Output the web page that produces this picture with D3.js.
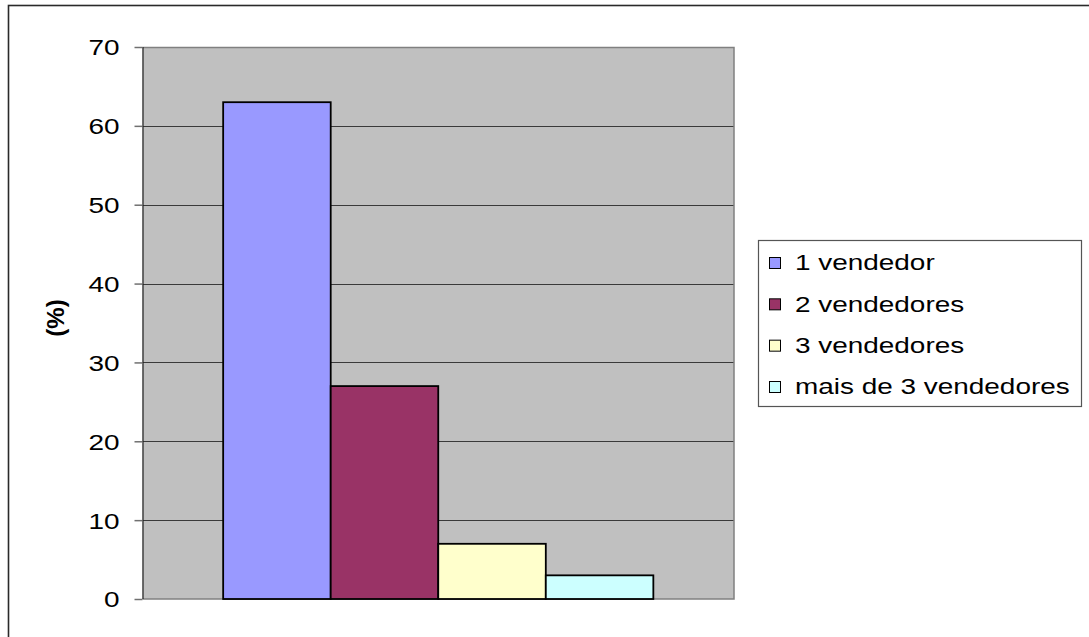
<!DOCTYPE html>
<html>
<head>
<meta charset="utf-8">
<script src="https://cdn.jsdelivr.net/npm/d3@7"></script>
<style>
  html, body { margin: 0; padding: 0; background: #fff; }
  svg { display: block; }
</style>
</head>
<body>
<svg id="chart" width="1089" height="637"></svg>
<script>
const categories = [""];
const series = ["1 vendedor", "2 vendedores", "3 vendedores", "mais de 3 vendedores"];
const values = [63, 27, 7, 3];
const colors = ["#9999FF", "#993366", "#FFFFCC", "#CCFFFF"];
const yTicks = [0, 10, 20, 30, 40, 50, 60, 70];
const yLabel = "(%)";

document.addEventListener("DOMContentLoaded", function() {
    const svg = d3.select("#chart");
    const margin = { top: 47, right: 355, bottom: 38, left: 142.5 };
    const width = +svg.attr("width") - margin.left - margin.right;
    const height = +svg.attr("height") - margin.top - margin.bottom;
    const stretch = 1.27;

    // outer chart frame (right/bottom edges fall outside the picture)
    svg.append("rect")
        .attr("x", 8.5).attr("y", 5.5)
        .attr("width", 1200).attr("height", 800)
        .attr("fill", "none")
        .attr("stroke", "#2a2a2a")
        .attr("stroke-width", 1.6);

    const g = svg.append("g").attr("transform", `translate(${margin.left},${margin.top})`);

    const y = d3.scaleLinear().domain([0, 70]).range([height, 0]);
    const x0 = d3.scaleBand().domain(categories).range([0, width]).paddingInner(0).paddingOuter(0.1875);
    const x1 = d3.scaleBand().domain(series).range([0, x0.bandwidth()]).padding(0);

    g.append("rect")
        .attr("width", width).attr("height", height)
        .attr("fill", "#C0C0C0");

    // gridlines
    g.selectAll(".grid").data(yTicks.filter(d => d > 0 && d < 70)).enter().append("line")
        .attr("x1", 0).attr("x2", width)
        .attr("y1", d => Math.round(y(d)) + 0.5).attr("y2", d => Math.round(y(d)) + 0.5)
        .attr("stroke", "#3a3a3a").attr("stroke-width", 1);

    // plot border (top/right/bottom gray)
    g.append("path")
        .attr("d", `M0,0.5H${width}V${height}H0`)
        .attr("fill", "none").attr("stroke", "#808080").attr("stroke-width", 1.5);

    // bars
    g.selectAll(".bar").data(series).enter().append("rect")
        .attr("class", "bar")
        .attr("x", d => x0("") + x1(d))
        .attr("y", (d, i) => y(values[i]))
        .attr("width", x1.bandwidth())
        .attr("height", (d, i) => height - y(values[i]))
        .attr("fill", (d, i) => colors[i])
        .attr("stroke", "#000")
        .attr("stroke-width", 1.8);

    // y axis
    const yAxis = g.append("g")
        .call(d3.axisLeft(y).tickValues(yTicks).tickSize(8).tickPadding(0));
    yAxis.select(".domain").attr("stroke", "#202020").attr("stroke-width", 1.2).attr("d", `M0.5,0V${height}`);
    yAxis.selectAll(".tick line").attr("stroke", "#707070").attr("stroke-width", 1.5);
    yAxis.selectAll(".tick text")
        .attr("x", 0)
        .attr("dy", "0.36em")
        .attr("transform", `translate(-23,0) scale(${stretch},1)`)
        .style("font-family", "'Liberation Sans', Arial, sans-serif")
        .style("font-size", "22px")
        .attr("fill", "#000");

    // y label
    svg.append("text")
        .attr("transform", `translate(56,${margin.top + height / 2 - 5}) rotate(-90)`)
        .attr("text-anchor", "middle")
        .attr("dy", "0.35em")
        .style("font-family", "'Liberation Sans', Arial, sans-serif")
        .style("font-size", "24px")
        .style("font-weight", "bold")
        .text(yLabel);

    // legend
    const legend = svg.append("g").attr("transform", "translate(758.5,240.5)");
    legend.append("rect")
        .attr("width", 323).attr("height", 166)
        .attr("fill", "#fff").attr("stroke", "#555").attr("stroke-width", 1.2);

    const ly = d3.scalePoint().domain(series).range([22, 146]);
    const items = legend.selectAll(".item").data(series).enter().append("g")
        .attr("transform", d => `translate(0,${ly(d)})`);
    items.append("rect")
        .attr("x", 11).attr("y", -5)
        .attr("width", 11).attr("height", 11)
        .attr("fill", (d, i) => colors[i])
        .attr("stroke", "#000").attr("stroke-width", 1);
    items.append("text")
        .attr("transform", `translate(36.5,0) scale(${stretch},1)`)
        .attr("dy", "0.36em")
        .style("font-family", "'Liberation Sans', Arial, sans-serif")
        .style("font-size", "22px")
        .text(d => d);
});
</script>
</body>
</html>
